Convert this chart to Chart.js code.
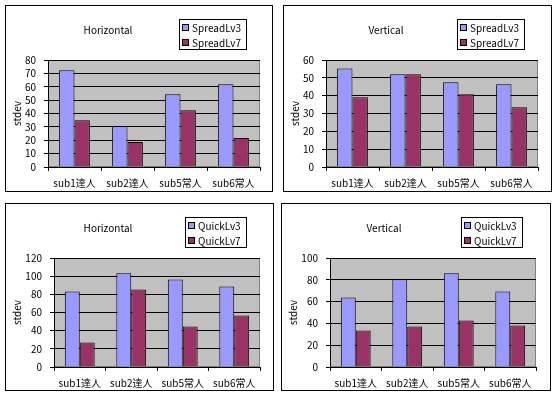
<!DOCTYPE html>
<html>
<head>
<meta charset="utf-8">
<script src="https://cdn.jsdelivr.net/npm/chart.js@4.4.1/dist/chart.umd.min.js"></script>
<style>
  html, body { margin: 0; padding: 0; background: #fff; }
  body { position: relative; width: 555px; height: 394px; overflow: hidden; }
  .box { position: absolute; border: 1px solid #000; background: #fff; }
  .box canvas { display: block; }
</style>
</head>
<body>
<div class="box" id="b1" style="left:5px;top:5px;"><canvas id="c1" width="266" height="185"></canvas></div>
<div class="box" id="b2" style="left:283px;top:5px;"><canvas id="c2" width="267" height="185"></canvas></div>
<div class="box" id="b3" style="left:5px;top:203px;"><canvas id="c3" width="267" height="186"></canvas></div>
<div class="box" id="b4" style="left:281px;top:203px;"><canvas id="c4" width="268" height="186"></canvas></div>
<script>
/* data */
const categories = ['sub1達人', 'sub2達人', 'sub5常人', 'sub6常人'];

const spreadLv3H = [72.3, 30.6, 54.4, 61.9];
const spreadLv7H = [35.0, 18.6, 42.5, 21.6];
const spreadLv3V = [55.3, 52.0, 47.5, 46.4];
const spreadLv7V = [39.1, 52.0, 40.8, 33.5];
const quickLv3H  = [83.2, 103.1, 96.4, 88.7];
const quickLv7H  = [26.9, 85.4, 44.5, 56.7];
const quickLv3V  = [63.8, 80.4, 85.9, 69.3];
const quickLv7V  = [33.4, 37.1, 42.6, 38.0];

const FONT = '"MS PGothic", "Noto Sans CJK JP", sans-serif';
Chart.defaults.font.family = FONT;
Chart.defaults.font.size = 10;
Chart.defaults.color = '#000';

/* plot background, title and boxed legend like the Excel original */
const frame = {
  id: 'frame',
  beforeDraw(chart) {
    const { ctx, chartArea: a } = chart;
    ctx.save();
    ctx.fillStyle = '#c0c0c0';
    ctx.fillRect(a.left, a.top, a.width, a.height);
    ctx.strokeStyle = '#808080';
    ctx.lineWidth = 1;
    ctx.strokeRect(Math.round(a.left) + .5, Math.round(a.top) + .5,
                   Math.round(a.width) - 1, Math.round(a.height) - 1);
    ctx.restore();
  },
  afterDraw(chart, args, opts) {
    const ctx = chart.ctx;
    ctx.save();
    ctx.font = '10px ' + FONT;
    ctx.fillStyle = '#000';
    ctx.textAlign = 'center';
    ctx.textBaseline = 'middle';
    ctx.fillText(opts.title, 102, 24);

    const ds = chart.data.datasets;
    const tw = Math.max(...ds.map(d => ctx.measureText(d.label).width));
    const w = Math.round(tw + 19), h = 31;
    const right = 241, top = 13, left = right - w;
    ctx.fillStyle = '#fff';
    ctx.fillRect(left, top, w, h);
    ctx.strokeStyle = '#000';
    ctx.strokeRect(left + .5, top + .5, w - 1, h - 1);
    ctx.textAlign = 'left';
    ds.forEach((d, i) => {
      const y = top + 8 + i * 15;
      ctx.fillStyle = d.backgroundColor;
      ctx.fillRect(left + 3, y - 3, 7, 7);
      ctx.strokeRect(left + 3.5, y - 2.5, 6, 6);
      ctx.fillStyle = '#000';
      ctx.fillText(d.label, left + 13, y + 1);
    });
    ctx.restore();
  },
};

function makeChart(id, title, names, lv3, lv7, yMax, yStep, plotLeft, plotBottom) {
  const canvas = document.getElementById(id);
  const H = canvas.height;
  new Chart(canvas, {
    type: 'bar',
    plugins: [frame],
    data: {
      labels: categories,
      datasets: [
        { label: names[0], data: lv3, backgroundColor: '#9999ff', borderColor: '#000', borderWidth: 1 },
        { label: names[1], data: lv7, backgroundColor: '#993366', borderColor: '#000', borderWidth: 1 },
      ],
    },
    options: {
      responsive: false,
      animation: false,
      categoryPercentage: 0.58,
      barPercentage: 1,
      layout: { padding: { top: 54, right: canvas.width - 254, left: 0, bottom: 0 } },
      plugins: {
        legend: { display: false },
        tooltip: { enabled: false },
        frame: { title },
      },
      scales: {
        x: {
          grid: { display: true, drawOnChartArea: false, offset: true, color: '#000', tickLength: 4 },
          border: { color: '#000' },
          ticks: { padding: 6, maxRotation: 0, autoSkip: false },
          afterFit: s => { s.height = H - plotBottom; },
        },
        y: {
          min: 0, max: yMax,
          grid: { color: '#000', tickLength: 4 },
          border: { color: '#000' },
          ticks: { stepSize: yStep, padding: 8, autoSkip: false },
          title: { display: true, text: 'stdev', padding: { top: 5, bottom: 0 } },
          afterFit: s => { s.width = plotLeft; },
        },
      },
    },
  });
}

makeChart('c1', 'Horizontal', ['SpreadLv3', 'SpreadLv7'], spreadLv3H, spreadLv7H, 80, 10, 42, 161);
makeChart('c2', 'Vertical',   ['SpreadLv3', 'SpreadLv7'], spreadLv3V, spreadLv7V, 60, 10, 42, 161);
makeChart('c3', 'Horizontal', ['QuickLv3', 'QuickLv7'],   quickLv3H,  quickLv7H, 120, 20, 48, 163);
makeChart('c4', 'Vertical',   ['QuickLv3', 'QuickLv7'],   quickLv3V,  quickLv7V, 100, 20, 48, 163);
</script>
</body>
</html>
